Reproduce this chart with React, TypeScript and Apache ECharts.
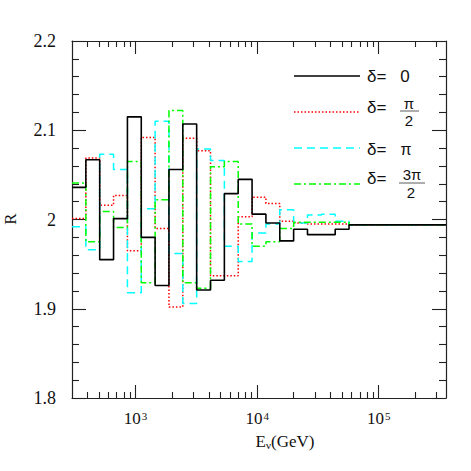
import React, { useEffect, useRef } from "react";
import * as echarts from "echarts";

// Bin edges (GeV) (log-spaced bins)
const binEdges = [
  300, 390, 507, 659, 857, 1114, 1448, 1882, 2447, 3181, 4136, 5376, 6989,
  9086, 11812, 15355, 19962, 25950, 33736, 43856, 57013, 74117, 96352,
  125257, 162834, 211684, 275189, 357745,
];

const delta0 = [
  2.036, 2.067, 1.955, 2.001, 2.115, 1.98, 1.926, 2.056, 2.107, 1.921, 1.932,
  2.029, 2.045, 2.006, 1.996, 1.976, 1.989, 1.983, 1.983, 1.989, 1.994, 1.994,
  1.994, 1.994, 1.994, 1.994, 1.994,
];
const deltaHalfPi = [
  2.001, 2.069, 2.016, 2.027, 1.965, 2.092, 1.99, 1.902, 2.091, 2.077, 1.937,
  1.937, 2.003, 2.025, 2.018, 1.998, 1.996, 1.995, 1.995, 1.995, 1.994, 1.994,
  1.994, 1.994, 1.994, 1.994, 1.994,
];
const deltaPi = [
  1.992, 1.966, 2.073, 2.056, 1.918, 2.012, 2.11, 1.962, 1.906, 2.079, 2.066,
  1.97, 1.953, 1.985, 1.995, 2.011, 1.996, 2.005, 2.006, 1.998, 1.994, 1.994,
  1.994, 1.994, 1.994, 1.994, 1.994,
];
const delta3HalfPi = [
  2.041, 1.975, 2.009, 1.991, 2.065, 1.929, 2.022, 2.122, 1.929, 1.923, 2.059,
  2.065, 1.995, 1.97, 1.975, 1.99, 1.997, 1.997, 1.997, 1.997, 1.994, 1.994,
  1.994, 1.994, 1.994, 1.994, 1.994,
];

const xMajorTicks = [1000, 10000, 100000];
const xMinorTicks = [
  400, 500, 600, 700, 800, 900, 2000, 3000, 4000, 5000, 6000, 7000, 8000, 9000,
  20000, 30000, 40000, 50000, 60000, 70000, 80000, 90000, 200000, 300000,
];

const X_MIN = 300;
const X_MAX = 357745;
const Y_MIN = 1.8;
const Y_MAX = 2.2;

const AXIS_COLOR = "#222";
const SERIF = "'Liberation Serif', 'DejaVu Serif', serif";
const SANS = "'Liberation Sans', 'DejaVu Sans', sans-serif";

function stepData(values: number[]) {
  const pts: [number, number][] = values.map((v, i) => [binEdges[i], v]);
  pts.push([binEdges[values.length], values[values.length - 1]]);
  return pts;
}

function xAxisDef(position: "top" | "bottom", major: boolean, labels: boolean) {
  return {
    type: "log",
    logBase: 10,
    min: X_MIN,
    max: X_MAX,
    position,
    gridIndex: 0,
    axisLine: { show: major, lineStyle: { color: AXIS_COLOR, width: 1.2 } },
    axisTick: {
      show: true,
      inside: true,
      length: major ? 13 : 6,
      customValues: major ? xMajorTicks : xMinorTicks,
      lineStyle: { color: AXIS_COLOR, width: 1.1 },
    },
    minorTick: { show: false },
    splitLine: { show: false },
    axisLabel: labels
      ? {
          show: true,
          customValues: xMajorTicks,
          margin: 12,
          formatter: (v: number) => `{b|10}{s|${Math.round(Math.log10(v))}}`,
          rich: {
            b: {
              fontFamily: SERIF,
              fontSize: 17,
              color: "#111",
              verticalAlign: "bottom",
              lineHeight: 17,
            },
            s: {
              fontFamily: SERIF,
              fontSize: 11,
              color: "#111",
              verticalAlign: "top",
              padding: [0, 0, 0, 1],
            },
          },
        }
      : { show: false },
  };
}

function yAxisDef(position: "left" | "right", labels: boolean) {
  return {
    type: "value",
    min: Y_MIN,
    max: Y_MAX,
    interval: 0.1,
    position,
    gridIndex: 0,
    axisLine: { show: true, lineStyle: { color: AXIS_COLOR, width: 1.2 } },
    axisTick: {
      show: true,
      inside: true,
      length: 14,
      lineStyle: { color: AXIS_COLOR, width: 1.1 },
    },
    minorTick: {
      show: true,
      splitNumber: 5,
      length: 7,
      lineStyle: { color: AXIS_COLOR, width: 1.1 },
    },
    splitLine: { show: false },
    minorSplitLine: { show: false },
    axisLabel: labels
      ? {
          show: true,
          margin: 16,
          fontFamily: SERIF,
          fontSize: 18,
          color: "#111",
        }
      : { show: false },
  };
}

const legendItems = [
  { y: 76, textY: 76, color: "#000000", dash: null as number[] | null, width: 1.5 },
  { y: 112, textY: 107, color: "#ff0000", dash: [1.5, 2], width: 1.5 },
  { y: 148, textY: 149, color: "#00ffff", dash: [8, 5], width: 1.5 },
  { y: 184, textY: 178, color: "#00ff00", dash: [7, 3, 2, 3], width: 1.5 },
];

export default function App() {
  const ref = useRef<HTMLDivElement>(null);

  useEffect(() => {
    if (!ref.current) return;
    const chart = echarts.init(ref.current, undefined, { renderer: "svg" });

    const mkSeries = (name: string, values: number[], color: string, type: any, width: number, z: number) => ({
      name,
      type: "line",
      step: "end",
      xAxisIndex: 0,
      yAxisIndex: 0,
      symbol: "none",
      data: stepData(values),
      lineStyle: { color, width, type },
      z,
      silent: true,
    });

    const txt = (text: string, x: number, y: number, size = 15) => ({
      type: "text",
      x,
      y,
      style: {
        text,
        fontFamily: SANS,
        fontSize: size,
        lineHeight: size,
        fill: "#111",
        align: "center",
        verticalAlign: "middle",
      },
    });

    const graphics: any[] = [];
    legendItems.forEach((it) => {
      graphics.push({
        type: "line",
        shape: { x1: 294, y1: it.y, x2: 360, y2: it.y },
        style: {
          stroke: it.color,
          lineWidth: it.width,
          lineDash: it.dash || undefined,
        },
      });
      graphics.push({
        type: "text",
        x: 367,
        y: it.textY,
        style: {
          text: "δ=",
          fontFamily: SANS,
          fontSize: 17,
          fill: "#111",
          verticalAlign: "middle",
          align: "left",
        },
      });
    });
    graphics.push(txt("0", 405, 76, 17));
    // π / 2
    graphics.push(txt("π", 409, 103));
    graphics.push({
      type: "line",
      shape: { x1: 400, y1: 111, x2: 419, y2: 111 },
      style: { stroke: "#333", lineWidth: 0.8 },
    });
    graphics.push(txt("2", 409, 120));
    // π
    graphics.push(txt("π", 406, 149, 16));
    // 3π / 2
    graphics.push(txt("3π", 412, 174));
    graphics.push({
      type: "line",
      shape: { x1: 399, y1: 183, x2: 425, y2: 183 },
      style: { stroke: "#333", lineWidth: 0.8 },
    });
    graphics.push(txt("2", 411, 192));
    // axis titles
    graphics.push({
      type: "text",
      x: 285,
      y: 441,
      style: {
        text: "E{s|ν}(GeV)",
        fontFamily: SERIF,
        fontSize: 17,
        fill: "#111",
        align: "center",
        verticalAlign: "middle",
        rich: {
          s: { fontFamily: SERIF, fontSize: 11, fill: "#111", verticalAlign: "bottom", padding: [8, 0, 0, 0] },
        },
      },
    });
    graphics.push({
      type: "text",
      x: 10,
      y: 219,
      rotation: Math.PI / 2,
      style: {
        text: "R",
        fontFamily: SERIF,
        fontSize: 17,
        fill: "#111",
        align: "center",
        verticalAlign: "middle",
      },
    });

    chart.setOption({
      animation: false,
      backgroundColor: "#ffffff",
      grid: { left: 72, right: 25, top: 41, bottom: 73, containLabel: false },
      xAxis: [
        xAxisDef("bottom", true, true),
        xAxisDef("bottom", false, false),
        xAxisDef("top", true, false),
        xAxisDef("top", false, false),
      ],
      yAxis: [yAxisDef("left", true), yAxisDef("right", false)],
      series: [
        mkSeries("δ=π/2", deltaHalfPi, "#ff0000", [1.5, 2], 1.5, 2),
        mkSeries("δ=π", deltaPi, "#00ffff", [8, 5], 1.5, 3),
        mkSeries("δ=3π/2", delta3HalfPi, "#00ff00", [7, 3, 2, 3], 1.5, 4),
        mkSeries("δ=0", delta0, "#000000", "solid", 1.6, 5),
      ],
      graphic: graphics,
    });

    return () => chart.dispose();
  }, []);

  return (
    <div
      ref={ref}
      style={{ position: "fixed", left: 0, top: 0, width: 471, height: 471, background: "#fff" }}
    />
  );
}
